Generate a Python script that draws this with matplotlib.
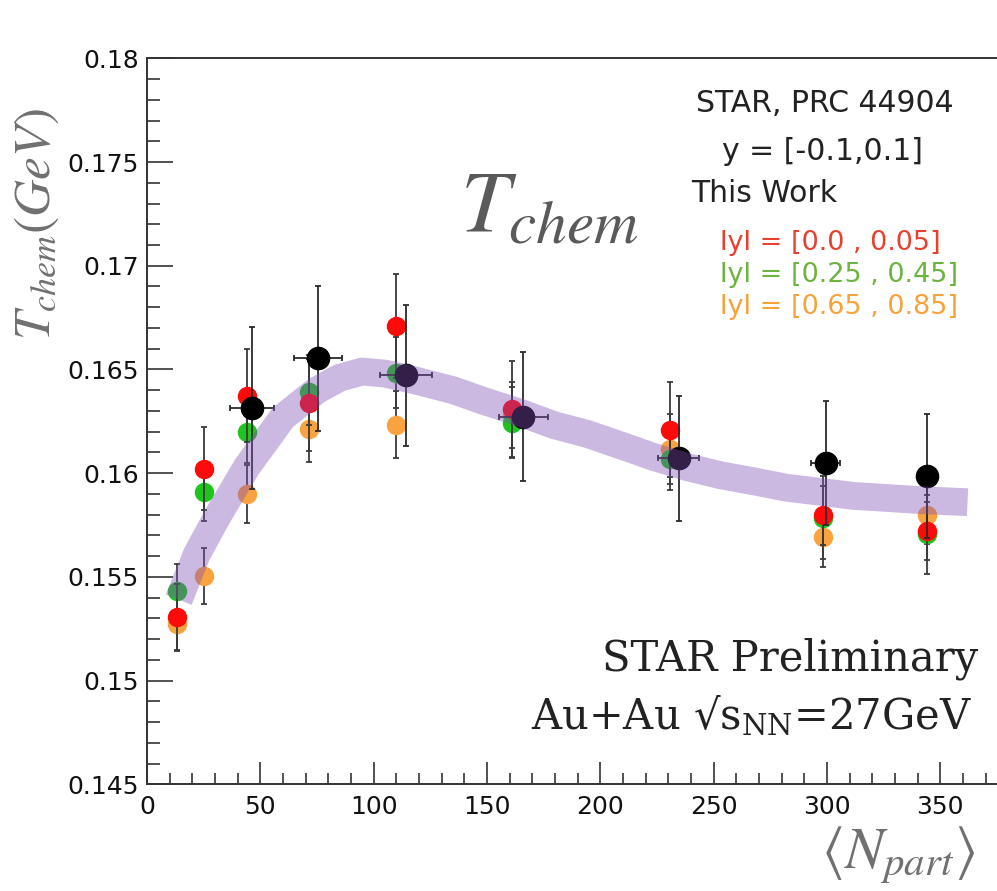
import numpy as np
import matplotlib.pyplot as plt
from matplotlib.ticker import MultipleLocator, FuncFormatter

# STAR published points (black)
npart_star = [46.3, 75.4, 114.3, 166.0, 234.6, 299.4, 344.0]
npart_star_err = [9.6, 10.5, 11.5, 10.8, 9.1, 6.3, 3.0]
t_star = [0.16316, 0.16553, 0.16473, 0.16272, 0.16071, 0.16050, 0.15985]
t_star_err = [0.0039, 0.0035, 0.0034, 0.0031, 0.0030, 0.0030, 0.0030]

# This work, three rapidity windows
npart = [13.4, 25.3, 44.3, 71.3, 109.8, 161.2, 230.7, 298.1, 344.0]
t_y0 = [0.15308, 0.16021, 0.16373, 0.16338, 0.16710, 0.16310, 0.16210, 0.15796, 0.15719]
t_y0_err = [0.0016, 0.0020, 0.00225, 0.0023, 0.0025, 0.0023, 0.0023, 0.0014, 0.0014]
t_y1 = [0.15430, 0.15909, 0.16197, 0.16390, 0.16485, 0.16244, 0.16069, 0.15785, 0.15705]
t_y1_err = [0.0013, 0.0014, 0.0015, 0.0016, 0.0017, 0.0017, 0.0015, 0.0020, 0.0019]
t_y2 = [0.15275, 0.15502, 0.15900, 0.16213, 0.16234, 0.16280, 0.16117, 0.15690, 0.15800]
t_y2_err = [0.0013, 0.00135, 0.0014, 0.0016, 0.0016, 0.0016, 0.0017, 0.0014, 0.0014]

# purple band (centre line)
band_x = [14, 22, 31, 44, 60, 75, 85, 95, 105, 119, 135, 148, 165, 180, 194,
          210, 223, 238, 253, 268, 282, 297, 312, 327, 341, 362]
band_y = [0.1539, 0.1561, 0.1579, 0.1603, 0.1627, 0.1640, 0.1646, 0.1649, 0.1648,
          0.16445, 0.1640, 0.1635, 0.1629, 0.1623, 0.1619, 0.1613, 0.1608, 0.1603,
          0.1599, 0.1596, 0.1593, 0.1591, 0.1589, 0.1588, 0.1587, 0.1586]

W, H = 997, 891
fig = plt.figure(figsize=(W / 100, H / 100), dpi=100)
ax = fig.add_axes([147 / W, 1 - 784.3 / H, (1003 - 147) / W, (784.3 - 58.3) / H])
ax.set_xlim(0, (1003 - 147) / 2.2667)
ax.set_ylim(0.145, 0.18)

# data points
series = [(t_y2, t_y2_err, '#f9a340'), (t_y1, t_y1_err, '#1fc41f'), (t_y0, t_y0_err, '#ff0a0a')]
for i, (t, e, c) in enumerate(series):
    ax.errorbar(npart, t, yerr=e, fmt='o', ms=13, mfc=c, mec=c, ecolor='#3a3a3a',
                elinewidth=1.3, capsize=2, capthick=1.3, zorder=2 + i)
ax.errorbar(npart_star, t_star, xerr=npart_star_err, yerr=t_star_err, fmt='o', ms=16,
            mfc='black', mec='black', ecolor='#2a2a2a', elinewidth=1.3, capsize=2,
            capthick=1.3, zorder=5)

# band on top, semi transparent
ax.plot(band_x, band_y, color='#8050b4', alpha=0.4, lw=20, solid_capstyle='butt',
        solid_joinstyle='round', zorder=6)

# axes style
ax.spines['right'].set_visible(False)
for s in ['left', 'bottom', 'top']:
    ax.spines[s].set_linewidth(1.4)
    ax.spines[s].set_color('#333333')
ax.xaxis.set_major_locator(MultipleLocator(50))
ax.xaxis.set_minor_locator(MultipleLocator(10))
ax.yaxis.set_major_locator(MultipleLocator(0.005))
ax.yaxis.set_minor_locator(MultipleLocator(0.001))
ax.yaxis.set_major_formatter(FuncFormatter(lambda v, _: f'{v:.4g}'))
ax.tick_params(which='both', direction='in', width=1.2, color='#333333',
               top=False, right=False, labelsize=18, labelcolor='#111111')
ax.tick_params(axis='y', which='major', length=18.7, pad=6)
ax.tick_params(axis='y', which='minor', length=9)
ax.tick_params(axis='x', which='major', length=15.6, pad=8)
ax.tick_params(axis='x', which='minor', length=8)

# axis titles
fig.text(36 / W, 1 - 224 / H, r'$T_{chem}(GeV)$', rotation=90, ha='center', va='center',
         fontsize=37, color='#707070', math_fontfamily='stix')
fig.text(975 / W, 1 - 868 / H, r'$\langle N_{part}\rangle$', ha='right', va='baseline',
         fontsize=42, color='#707070', math_fontfamily='stix')

# big label
fig.text(460 / W, 1 - 232 / H, r'$T_{chem}$', ha='left', va='baseline',
         fontsize=63, color='#5a5a5a', math_fontfamily='stix')

# legend-like text block
fig.text(825 / W, 1 - 104 / H, 'STAR, PRC 44904', ha='center', va='center',
         fontsize=21.5, color='#222222')
fig.text(822 / W, 1 - 151 / H, 'y = [-0.1,0.1]', ha='center', va='center',
         fontsize=21.5, color='#222222')
fig.text(691 / W, 1 - 194 / H, 'This Work', ha='left', va='center',
         fontsize=21.5, color='#222222')
fig.text(720 / W, 1 - 243 / H, 'lyl = [0.0 , 0.05]', ha='left', va='center',
         fontsize=19.5, color='#e8402f')
fig.text(720 / W, 1 - 275 / H, 'lyl = [0.25 , 0.45]', ha='left', va='center',
         fontsize=19.5, color='#6db33f')
fig.text(720 / W, 1 - 307 / H, 'lyl = [0.65 , 0.85]', ha='left', va='center',
         fontsize=19.5, color='#f5a33a')

fig.text(978 / W, 1 - 670 / H, 'STAR Preliminary', ha='right', va='baseline',
         fontsize=30, family='DejaVu Serif', color='#222222')
fig.text(972 / W, 1 - 728 / H, r'Au+Au √$\mathrm{s}_{\mathrm{NN}}$=27GeV', ha='right',
         va='baseline', fontsize=30, family='DejaVu Serif', color='#222222',
         math_fontfamily='dejavuserif')

fig.savefig('out.png', dpi=100)
